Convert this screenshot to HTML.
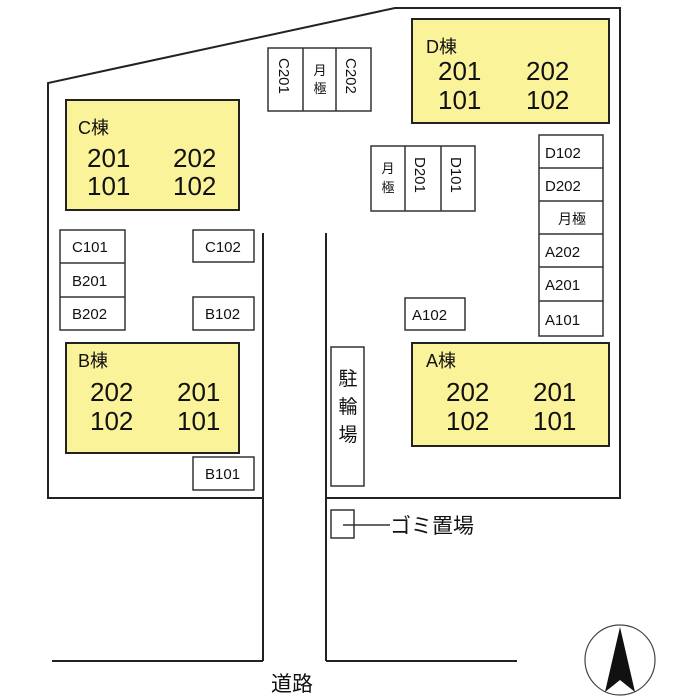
<!DOCTYPE html>
<html><head><meta charset="utf-8"><style>
html,body{margin:0;padding:0;background:#fff}
svg{display:block}
text{font-family:"Liberation Sans","Noto Sans CJK JP",sans-serif;fill:#111}
</style></head><body>
<svg width="700" height="700" viewBox="0 0 700 700" xmlns="http://www.w3.org/2000/svg">
<g stroke="#222" stroke-width="2" fill="none">
<polyline points="263,498 48,498 48,83 395,8 620,8 620,498 326,498"/>
<line x1="263" y1="233" x2="263" y2="661"/>
<line x1="326" y1="233" x2="326" y2="661"/>
<line x1="52" y1="661" x2="263" y2="661"/>
<line x1="326" y1="661" x2="517" y2="661"/>
</g>
<g stroke="#222" stroke-width="2" fill="#fbf39a">
<rect x="66" y="100" width="173" height="110"/>
<rect x="412" y="19" width="197" height="104"/>
<rect x="66" y="343" width="173" height="110"/>
<rect x="412" y="343" width="197" height="103"/>
</g>
<g stroke="#333" stroke-width="1.5" fill="#fff">
<rect x="268" y="48" width="103" height="63"/>
<line x1="303" y1="48" x2="303" y2="111"/><line x1="336" y1="48" x2="336" y2="111"/>
<rect x="371" y="146" width="104" height="65"/>
<line x1="405" y1="146" x2="405" y2="211"/><line x1="441" y1="146" x2="441" y2="211"/>
<rect x="539" y="135" width="64" height="201"/>
<line x1="539" y1="168" x2="603" y2="168"/><line x1="539" y1="201" x2="603" y2="201"/>
<line x1="539" y1="234" x2="603" y2="234"/><line x1="539" y1="267" x2="603" y2="267"/>
<line x1="539" y1="301" x2="603" y2="301"/>
<rect x="60" y="230" width="65" height="100"/>
<line x1="60" y1="263" x2="125" y2="263"/><line x1="60" y1="297" x2="125" y2="297"/>
<rect x="193" y="230" width="61" height="32"/>
<rect x="193" y="297" width="61" height="33"/>
<rect x="405" y="298" width="60" height="32"/>
<rect x="331" y="347" width="33" height="139"/>
<rect x="193" y="457" width="61" height="33"/>
<rect x="331" y="510" width="23" height="28"/>
<line x1="343" y1="525" x2="390" y2="525"/>
</g>
<g font-size="18"><text x="78" y="134">C棟</text><text x="426" y="53">D棟</text><text x="78" y="367">B棟</text><text x="426" y="367">A棟</text></g>
<g font-size="26">
<text x="87" y="167">201</text><text x="173" y="167">202</text><text x="87" y="195">101</text><text x="173" y="195">102</text>
<text x="438" y="80">201</text><text x="526" y="80">202</text><text x="438" y="109">101</text><text x="526" y="109">102</text>
<text x="90" y="401">202</text><text x="177" y="401">201</text><text x="90" y="430">102</text><text x="177" y="430">101</text>
<text x="446" y="401">202</text><text x="533" y="401">201</text><text x="446" y="430">102</text><text x="533" y="430">101</text>
</g>
<g font-size="15">
<text x="72" y="252">C101</text><text x="72" y="286">B201</text><text x="72" y="319">B202</text>
<text x="205" y="252">C102</text><text x="205" y="319">B102</text><text x="412" y="320">A102</text>
<text x="205" y="479">B101</text>
<text x="545" y="158">D102</text><text x="545" y="191">D202</text><text x="558" y="224" font-size="14">月極</text>
<text x="545" y="257">A202</text><text x="545" y="290">A201</text><text x="545" y="325">A101</text>
<text transform="translate(279,58) rotate(90)">C201</text>
<text transform="translate(346,58) rotate(90)">C202</text>
<text transform="translate(415,157) rotate(90)">D201</text>
<text transform="translate(451,157) rotate(90)">D101</text>
</g>
<g font-size="13" text-anchor="middle">
<text x="320" y="75">月</text><text x="320" y="93">極</text>
<text x="388" y="173">月</text><text x="388" y="192">極</text>
</g>
<g font-size="19" text-anchor="middle"><text x="348" y="385">駐</text><text x="348" y="413">輪</text><text x="348" y="441">場</text></g>
<text x="390" y="533" font-size="21">ゴミ置場</text>
<text x="271" y="691" font-size="21">道路</text>
<circle cx="620" cy="660" r="35" fill="none" stroke="#444" stroke-width="1.2"/>
<polygon points="620,627 605,692 620,680 635,692" fill="#111"/>
</svg>
</body></html>
